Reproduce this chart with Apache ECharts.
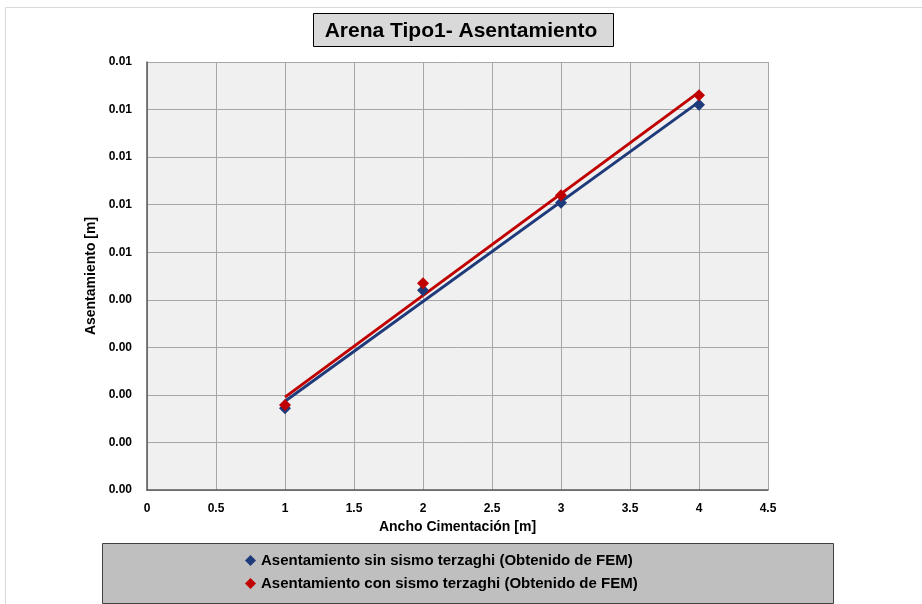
<!DOCTYPE html>
<html>
<head>
<meta charset="utf-8">
<script src="https://cdn.jsdelivr.net/npm/echarts@6/dist/echarts.min.js"></script>
<style>
  html, body { margin: 0; padding: 0; background: #fff; }
  #chart { width: 922px; height: 604px; }
</style>
</head>
<body>
<div id="chart"></div>
<script>
// ancho de cimentacion [m]
const anchos = [1, 2, 3, 4]
// asentamientos [m]
const sinSismo = [0.00172, 0.00420, 0.00604, 0.00810]
const conSismo = [0.00179, 0.00435, 0.00620, 0.00830]

const nombreSin = 'Asentamiento sin sismo terzaghi (Obtenido de FEM)'
const nombreCon = 'Asentamiento con sismo terzaghi (Obtenido de FEM)'

const font = '"Liberation Sans", Arial, sans-serif'

// linea de tendencia lineal (minimos cuadrados)
function tendencia(xs, ys) {
  const n = xs.length
  const mx = xs.reduce((a, b) => a + b, 0) / n
  const my = ys.reduce((a, b) => a + b, 0) / n
  let sxy = 0, sxx = 0
  for (let i = 0; i < n; i++) {
    sxy += (xs[i] - mx) * (ys[i] - my)
    sxx += (xs[i] - mx) * (xs[i] - mx)
  }
  const m = sxy / sxx
  const b = my - m * mx
  const x0 = Math.min(...xs), x1 = Math.max(...xs)
  return [[x0, m * x0 + b], [x1, m * x1 + b]]
}

const azul = '#1F3A7A'
const rojo = '#C00000'

const chart = echarts.init(document.getElementById('chart'), null, { renderer: 'canvas' })

const option = {
  animation: false,
  textStyle: { fontFamily: font },
  graphic: [
    {
      type: 'rect', silent: true, z: -10,
      shape: { x: 5.5, y: 7.5, width: 930, height: 610 },
      style: { fill: '#fff', stroke: '#D9D9D9', lineWidth: 1 }
    },
    {
      type: 'rect', silent: true,
      shape: { x: 313.5, y: 13.5, width: 300, height: 33 },
      style: { fill: '#D9D9D9', stroke: '#000', lineWidth: 1 }
    },
    {
      type: 'text', silent: true, z: 10,
      left: 'center', top: 21,
      style: { text: 'Arena Tipo1- Asentamiento', font: 'bold 21px ' + font, fill: '#000' }
    },
    {
      type: 'rect', silent: true,
      shape: { x: 102.5, y: 543.5, width: 731, height: 60 },
      style: { fill: '#BFBFBF', stroke: '#404040', lineWidth: 1 }
    }
  ],
  legend: {
    orient: 'vertical',
    left: 240,
    top: 548,
    itemGap: 8,
    itemWidth: 11,
    itemHeight: 11,
    icon: 'diamond',
    data: [nombreSin, nombreCon],
    textStyle: { fontFamily: font, fontWeight: 'bold', fontSize: 15, color: '#000' },
    z: 20
  },
  grid: {
    left: 147, right: 154, top: 62, bottom: 114,
    show: true, backgroundColor: '#F0F0F0', borderWidth: 0
  },
  xAxis: {
    type: 'value',
    min: 0, max: 4.5, interval: 0.5,
    name: 'Ancho Cimentación [m]',
    nameLocation: 'middle',
    nameGap: 24,
    nameTextStyle: { fontFamily: font, fontWeight: 'bold', fontSize: 14, color: '#000' },
    axisLine: { show: true, lineStyle: { color: '#595959', width: 1.5 } },
    axisTick: { show: false },
    axisLabel: { fontFamily: font, fontWeight: 'bold', fontSize: 12, color: '#000', margin: 13 },
    splitLine: { show: true, lineStyle: { color: '#A6A6A6', width: 1 } }
  },
  yAxis: {
    type: 'value',
    min: 0, max: 0.009, interval: 0.001,
    name: 'Asentamiento [m]',
    nameLocation: 'middle',
    nameGap: 49,
    nameTextStyle: { fontFamily: font, fontWeight: 'bold', fontSize: 14, color: '#000' },
    axisLine: { show: true, lineStyle: { color: '#595959', width: 1.5 } },
    axisTick: { show: false },
    axisLabel: {
      fontFamily: font, fontWeight: 'bold', fontSize: 12, color: '#000', margin: 15,
      formatter: v => (Math.round(v * 1e6) / 1e6 + 1e-9).toFixed(2)
    },
    splitLine: { show: true, lineStyle: { color: '#A6A6A6', width: 1 } }
  },
  series: [
    {
      name: nombreSin + ' tendencia',
      type: 'line',
      data: tendencia(anchos, sinSismo),
      symbol: 'none',
      lineStyle: { color: azul, width: 3 },
      z: 2
    },
    {
      name: nombreCon + ' tendencia',
      type: 'line',
      data: tendencia(anchos, conSismo),
      symbol: 'none',
      lineStyle: { color: rojo, width: 3 },
      z: 3
    },
    {
      name: nombreSin,
      type: 'scatter',
      data: anchos.map((x, i) => [x, sinSismo[i]]),
      symbol: 'diamond',
      symbolSize: 12,
      itemStyle: { color: azul, opacity: 1 },
      z: 4
    },
    {
      name: nombreCon,
      type: 'scatter',
      data: anchos.map((x, i) => [x, conSismo[i]]),
      symbol: 'diamond',
      symbolSize: 12,
      itemStyle: { color: rojo, opacity: 1 },
      z: 5
    }
  ]
}

chart.setOption(option)
window.addEventListener('resize', chart.resize)
</script>
</body>
</html>
